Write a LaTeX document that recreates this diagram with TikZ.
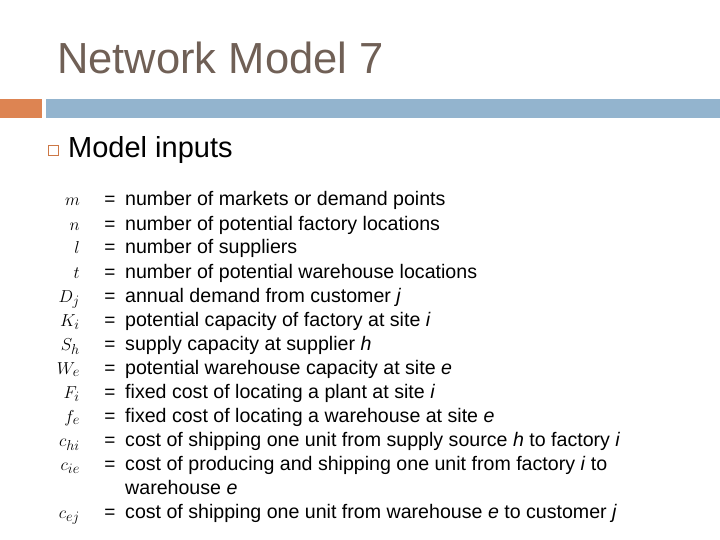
\documentclass[tikz,border=0pt]{standalone}
\usepackage{fontspec}
\setmainfont{Liberation Sans}
\begin{document}
\begin{tikzpicture}[x=1pt,y=-1pt,
 sym/.style={anchor=base east,inner sep=0,font=\fontsize{19}{22}\selectfont},
 eq/.style={anchor=base,inner sep=0,font=\fontsize{19}{22}\selectfont},
 txt/.style={anchor=base west,inner sep=0,font=\fontsize{19.6}{22}\selectfont}]
\useasboundingbox (0,0) rectangle (720,540);
\fill[white] (0,0) rectangle (720,540);
\node[anchor=base west,text={rgb,255:red,112;green,96;blue,86},font=\fontsize{43.5}{48}\selectfont,inner sep=0] (title) at (57,74) {Network Model 7};
\fill[fill={rgb,255:red,221;green,132;blue,82}] (0,99) rectangle (42,118);
\fill[fill={rgb,255:red,147;green,180;blue,206}] (46,99) rectangle (720,118);
\node[draw={rgb,255:red,205;green,120;blue,70},line width=0.9pt,minimum size=10pt,inner sep=0] (bul) at (53,150) {};
\node[anchor=base west,font=\fontsize{29}{32}\selectfont,inner sep=0] (head) at (68,158) {Model inputs};
\foreach \s/\t [count=\i] in {
 m/number of markets or demand points,
 n/number of potential factory locations,
 l/number of suppliers,
 t/number of potential warehouse locations,
 D_j/annual demand from customer \textit{j},
 K_i/potential capacity of factory at site \textit{i},
 S_h/supply capacity at supplier \textit{h},
 W_e/potential warehouse capacity at site \textit{e},
 F_i/fixed cost of locating a plant at site \textit{i},
 f_e/fixed cost of locating a warehouse at site \textit{e},
 c_{hi}/cost of shipping one unit from supply source \textit{h} to factory \textit{i},
 c_{ie}/cost of producing and shipping one unit from factory \textit{i} to}
{
 \node[sym] (s\i) at (80,{182+24*\i}) {$\s$};
 \node[eq] (e\i) at (110,{182+24*\i}) {=};
 \node[txt] (t\i) at (125,{182+24*\i}) {\t};
}
\node[txt] (w) at (125,494) {warehouse \textit{e}};
\node[sym] (s13) at (80,518) {$c_{ej}$};
\node[eq] (e13) at (110,518) {=};
\node[txt] (t13) at (125,518) {cost of shipping one unit from warehouse \textit{e} to customer \textit{j}};
\end{tikzpicture}
\end{document}
